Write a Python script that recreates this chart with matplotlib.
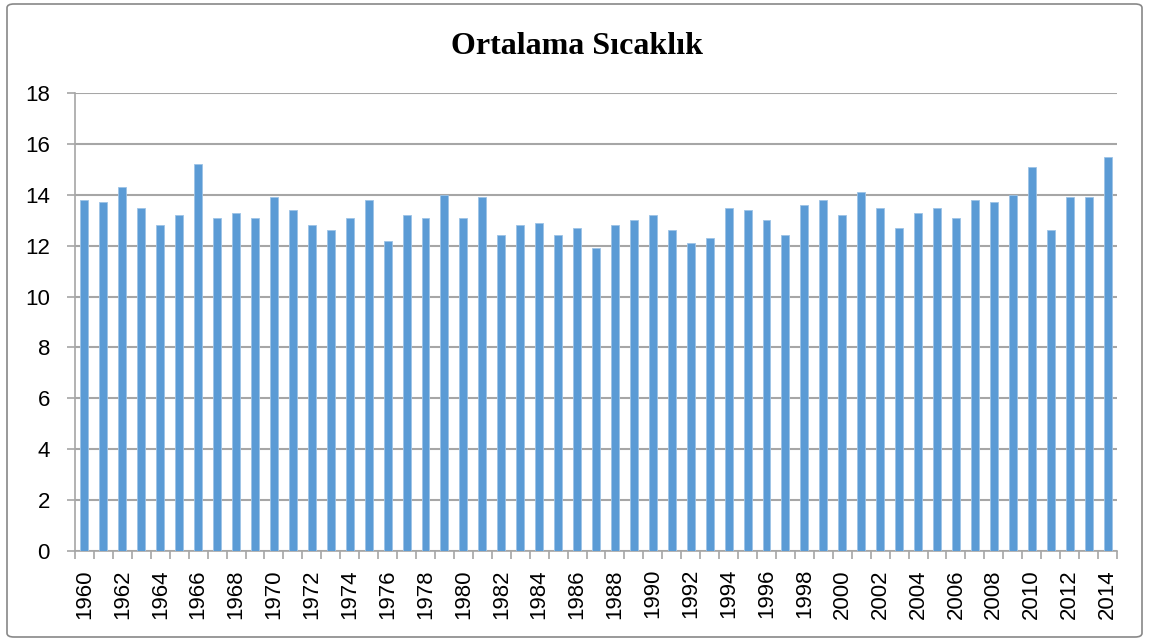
import matplotlib
matplotlib.use("Agg")
import matplotlib.pyplot as plt
from matplotlib.patches import FancyBboxPatch
from matplotlib.ticker import FixedLocator, NullFormatter

years = list(range(1960, 2015))
values = [13.8, 13.7, 14.3, 13.5, 12.8, 13.2, 15.2, 13.1, 13.3, 13.1,
          13.9, 13.4, 12.8, 12.6, 13.1, 13.8, 12.2, 13.2, 13.1, 14.0,
          13.1, 13.9, 12.4, 12.8, 12.9, 12.4, 12.7, 11.9, 12.8, 13.0,
          13.2, 12.6, 12.1, 12.3, 13.5, 13.4, 13.0, 12.4, 13.6, 13.8,
          13.2, 14.1, 13.5, 12.7, 13.3, 13.5, 13.1, 13.8, 13.7, 14.0,
          15.1, 12.6, 13.9, 13.9, 15.5]
y_ticks = [0, 2, 4, 6, 8, 10, 12, 14, 16, 18]
title = "Ortalama Sıcaklık"

W, H = 1150, 641
fig = plt.figure(figsize=(W / 100, H / 100), dpi=100)
ax = fig.add_axes([75 / W, 1 - 551 / H, (1117 - 75) / W, (551 - 93) / H])

x = list(range(len(years)))
ax.bar(x, values, width=0.42, color="#5B9BD5", edgecolor="#9DC3E6",
       linewidth=0.6, zorder=3)

ax.set_xlim(-0.5, len(years) - 0.5)
ax.set_ylim(0, 18)
ax.set_yticks(y_ticks)
ax.set_yticklabels([str(t) for t in y_ticks], fontsize=16,
                   family="Liberation Sans")
ax.yaxis.grid(True, color="#A6A6A6", linewidth=1.5, zorder=0)
ax.set_axisbelow(True)

# category tick labels every second year
ax.set_xticks(x[::2])
ax.set_xticklabels([str(y) for y in years[::2]], rotation=90, fontsize=16,
                   family="Liberation Sans")
ax.tick_params(axis="x", length=0, pad=13)
# tick marks between categories
ax.xaxis.set_minor_locator(FixedLocator([i - 0.5 for i in range(len(years) + 1)]))
ax.xaxis.set_minor_formatter(NullFormatter())
ax.tick_params(axis="x", which="minor", length=6, color="#A6A6A6", width=1.2)
ax.tick_params(axis="y", length=6, color="#A6A6A6", width=1.2, pad=12)

for s in ["top", "right"]:
    ax.spines[s].set_visible(False)
for s in ["left", "bottom"]:
    ax.spines[s].set_color("#A6A6A6")
    ax.spines[s].set_linewidth(1.2)

fig.text(577 / W, 1 - 46 / H, title, ha="center", va="center",
         fontsize=23, fontweight="bold", family="Liberation Serif")

border = FancyBboxPatch((7 / W, 4 / H), (1142 - 7) / W, (637 - 4) / H,
                        boxstyle="round,pad=0,rounding_size=0.006",
                        transform=fig.transFigure, fill=False,
                        edgecolor="#888888", linewidth=1.2)
fig.patches.append(border)

fig.savefig("out.png", dpi=100)
